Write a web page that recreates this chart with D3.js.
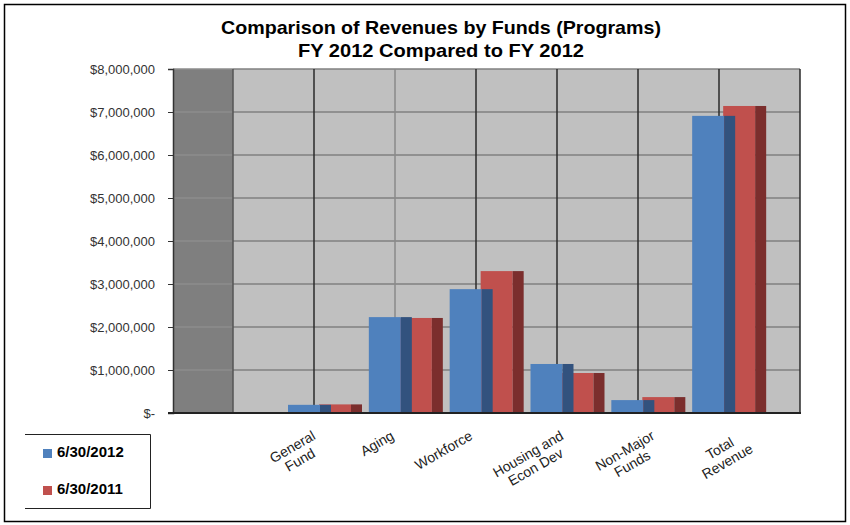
<!DOCTYPE html>
<html>
<head>
<meta charset="utf-8">
<script src="https://cdn.jsdelivr.net/npm/d3@7"></script>
<style>
  body { margin: 0; background: #fff; }
  svg text { font-family: "Liberation Sans", Arial, sans-serif; }
</style>
</head>
<body>
<svg id="chart" width="850" height="525"></svg>
<script>
var categories = ["General Fund", "Aging", "Workforce", "Housing and Econ Dev", "Non-Major Funds", "Total Revenue"]
var label_lines = [["General", "Fund"], ["Aging"], ["Workforce"], ["Housing and", "Econ Dev"], ["Non-Major", "Funds"], ["Total", "Revenue"]]
var series_names = ["6/30/2012", "6/30/2011"]
var values_2012 = [190000, 2230000, 2880000, 1140000, 300000, 6910000]
var values_2011 = [200000, 2210000, 3300000, 930000, 370000, 7140000]
var y_ticks = [0, 1000000, 2000000, 3000000, 4000000, 5000000, 6000000, 7000000, 8000000]

var svg = d3.select("#chart")

var plot_left = 173, wall_left = 233, plot_right = 800, plot_top = 69, plot_bottom = 413

var y_scale = d3.scaleLinear().domain([0, 8000000]).range([plot_bottom, plot_top]),
    x_scale = d3.scaleBand().domain(categories).range([284, 769]),
    // labels sit on the front edge of the floor, spread a bit by perspective
    label_scale = d3.scaleLinear().domain([0, 2, 5]).range([311, 468, 741]),
    wall_scale = d3.scaleLinear().domain([0, 7]).range([wall_left, plot_right])

// outer border
svg.append("rect")
   .attr("x", 4.5).attr("y", 4.5).attr("width", 841).attr("height", 517)
   .style("fill", "none").style("stroke", "#000").style("stroke-width", 1.5)

// title
svg.append("text")
   .attr("x", 441).attr("y", 34)
   .attr("text-anchor", "middle")
   .attr("textLength", 440).attr("lengthAdjust", "spacingAndGlyphs")
   .style("font-size", "19px").style("font-weight", "bold")
   .text("Comparison of Revenues by Funds (Programs)")
svg.append("text")
   .attr("x", 441).attr("y", 57)
   .attr("text-anchor", "middle")
   .attr("textLength", 286).attr("lengthAdjust", "spacingAndGlyphs")
   .style("font-size", "19px").style("font-weight", "bold")
   .text("FY 2012 Compared to FY 2012")

// walls
svg.append("rect")
   .attr("x", plot_left).attr("y", plot_top).attr("width", wall_left - plot_left).attr("height", plot_bottom - plot_top)
   .style("fill", "#7f7f7f")
svg.append("rect")
   .attr("x", wall_left).attr("y", plot_top).attr("width", plot_right - wall_left).attr("height", plot_bottom - plot_top)
   .style("fill", "#c0c0c0")

// horizontal gridlines
svg.selectAll(".hgrid-side")
   .data(y_ticks)
   .enter()
   .append("line")
   .attr("x1", plot_left).attr("x2", wall_left)
   .attr("y1", d=>y_scale(d)).attr("y2", d=>y_scale(d))
   .style("stroke", "#8c8c8c").style("stroke-width", 1.5)
svg.selectAll(".hgrid")
   .data(y_ticks)
   .enter()
   .append("line")
   .attr("x1", wall_left).attr("x2", plot_right)
   .attr("y1", d=>y_scale(d)).attr("y2", d=>y_scale(d))
   .style("stroke", "#808080").style("stroke-width", 1.5)

// vertical wall lines
svg.selectAll(".vgrid")
   .data(d3.range(0, 8))
   .enter()
   .append("line")
   .attr("x1", d=>wall_scale(d)).attr("x2", d=>wall_scale(d))
   .attr("y1", plot_top).attr("y2", plot_bottom)
   .style("stroke", d=>d == 0 ? "#555" : (d == 2 ? "#8a8a8a" : "#2b2b2b"))
   .style("stroke-width", 1.5)

// bars: red drawn first, blue in front
function draw_bars(values, dx, front, side) {
	var g = svg.append("g")
	g.selectAll(".front")
	 .data(values)
	 .enter()
	 .append("rect")
	 .attr("x", (d, i)=>x_scale(categories[i]) + dx)
	 .attr("y", d=>y_scale(d))
	 .attr("width", 32)
	 .attr("height", d=>plot_bottom - y_scale(d))
	 .style("fill", front)
	g.selectAll(".side")
	 .data(values)
	 .enter()
	 .append("rect")
	 .attr("x", (d, i)=>x_scale(categories[i]) + dx + 32)
	 .attr("y", d=>y_scale(d))
	 .attr("width", 11)
	 .attr("height", d=>plot_bottom - y_scale(d))
	 .style("fill", side)
}
draw_bars(values_2011, 35, "#c0504d", "#7b2e2d")
draw_bars(values_2012, 4, "#4f81bd", "#32527e")

// axes
var y_axis = d3.axisLeft(y_scale)
               .tickValues(y_ticks)
               .tickSize(5)
               .tickPadding(13)
               .tickFormat(d=>d == 0 ? "$-" : d3.format("$,")(d))
var gy = svg.append("g").attr("transform", "translate(" + plot_left + ",0)").call(y_axis)
gy.select(".domain").style("stroke", "#333").style("stroke-width", 1.5)
gy.selectAll(".tick line").style("stroke", "#333")
gy.selectAll(".tick text")
  .style("font-size", "13px").style("fill", "#333")
  .style("font-family", "'Liberation Sans', Arial, sans-serif")

svg.append("line")
   .attr("x1", plot_left - 5).attr("x2", plot_right + 1)
   .attr("y1", plot_bottom).attr("y2", plot_bottom)
   .style("stroke", "#222").style("stroke-width", 2)

// category labels, rotated
var labels = svg.selectAll(".cat-label")
   .data(categories)
   .enter()
   .append("g")
   .attr("class", "cat-label")
   .attr("transform", (d, i)=>"translate(" + label_scale(i) + ",429) rotate(-30)")
labels.each(function (d, i) {
	var g = d3.select(this)
	var lines = label_lines[i]
	var texts = g.selectAll("text")
	   .data(lines)
	   .enter()
	   .append("text")
	   .attr("y", (t, j)=>11 + j * 15)
	   .attr("text-anchor", "middle")
	   .style("font-size", "14px").style("fill", "#222")
	   .text(t=>t)
	var max_w = d3.max(texts.nodes(), n=>n.getComputedTextLength())
	texts.attr("x", -max_w / 2)
})

// legend
var legend = svg.append("g")
legend.append("path")
      .attr("d", "M25,434.5 H150.5 V508.5 H25")
      .style("fill", "none").style("stroke", "#222").style("stroke-width", 1)
var legend_items = legend.selectAll(".legend-item")
      .data(series_names)
      .enter()
      .append("g")
      .attr("transform", (d, i)=>"translate(43," + (457 + i * 37) + ")")
legend_items.append("rect")
      .attr("x", 0).attr("y", -8).attr("width", 9).attr("height", 9)
      .style("fill", (d, i)=>i == 0 ? "#4f81bd" : "#c0504d")
legend_items.append("text")
      .attr("x", 14).attr("y", 0)
      .style("font-size", "15px").style("font-weight", "bold")
      .text(d=>d)
</script>
</body>
</html>
